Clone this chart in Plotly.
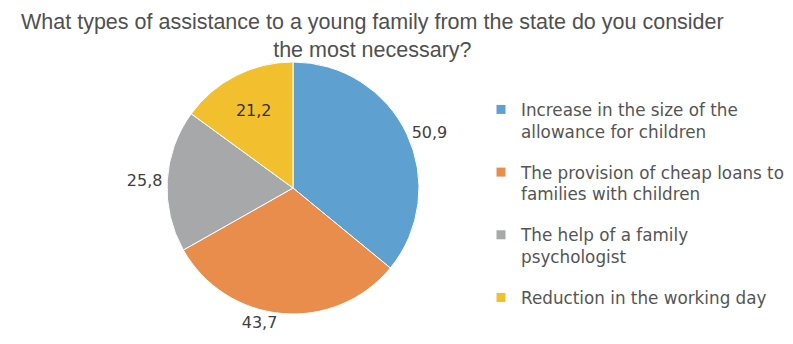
import plotly.graph_objects as go

categories = [
    "Increase in the size of the<br>allowance for children",
    "The provision of cheap loans to<br>families with children",
    "The help of a family<br>psychologist",
    "Reduction in the working day",
]
values = [50.9, 43.7, 25.8, 21.2]
value_labels = ["50,9", "43,7", "25,8", "21,2"]
colors = ["#5EA0CF", "#E88D4B", "#A6A8A9", "#F2BF2F"]
title_text = ("What types of assistance to a young family from the state do you consider"
              "<br>the most necessary?")

W, H = 793, 344
cx, cy, r = 285, 180, 126

fig = go.Figure(go.Pie(
    labels=categories,
    values=values,
    text=value_labels,
    textinfo="text",
    textposition=["outside", "outside", "outside", "inside"],
    sort=False,
    direction="clockwise",
    rotation=0,
    marker=dict(colors=colors, line=dict(color="white", width=1)),
    textfont=dict(family="DejaVu Sans", size=16, color="#404040"),
    insidetextfont=dict(family="DejaVu Sans", size=16, color="#333333"),
    domain=dict(x=[(cx - r) / W, (cx + r) / W], y=[1 - (cy + r) / H, 1 - (cy - r) / H]),
    showlegend=False,
    hoverinfo="label+value",
))

# legend entries (one group per category so that gaps can be set)
for i, (name, col) in enumerate(zip(categories, colors)):
    fig.add_trace(go.Scatter(
        x=[None], y=[None], mode="markers", name=name,
        legendgroup=f"g{i}", showlegend=True,
        marker=dict(symbol="square", size=9, color=col),
    ))

fig.add_annotation(text=title_text, x=364 / W, y=1 - 0 / H, xref="paper", yref="paper",
                   xanchor="center", yanchor="top", showarrow=False, align="center",
                   font=dict(family="Liberation Sans", size=21.5, color="#505050"))

fig.update_layout(
    width=W, height=H,
    margin=dict(l=0, r=0, t=0, b=0),
    paper_bgcolor="white",
    plot_bgcolor="white",
    xaxis=dict(visible=False),
    yaxis=dict(visible=False),
    legend=dict(x=473 / W, y=1 - 84 / H, xanchor="left", yanchor="top", valign="top",
                font=dict(family="DejaVu Sans", size=16.8, color="#555555"),
                itemwidth=30, tracegroupgap=16),
)
fig.write_html("out.html")
